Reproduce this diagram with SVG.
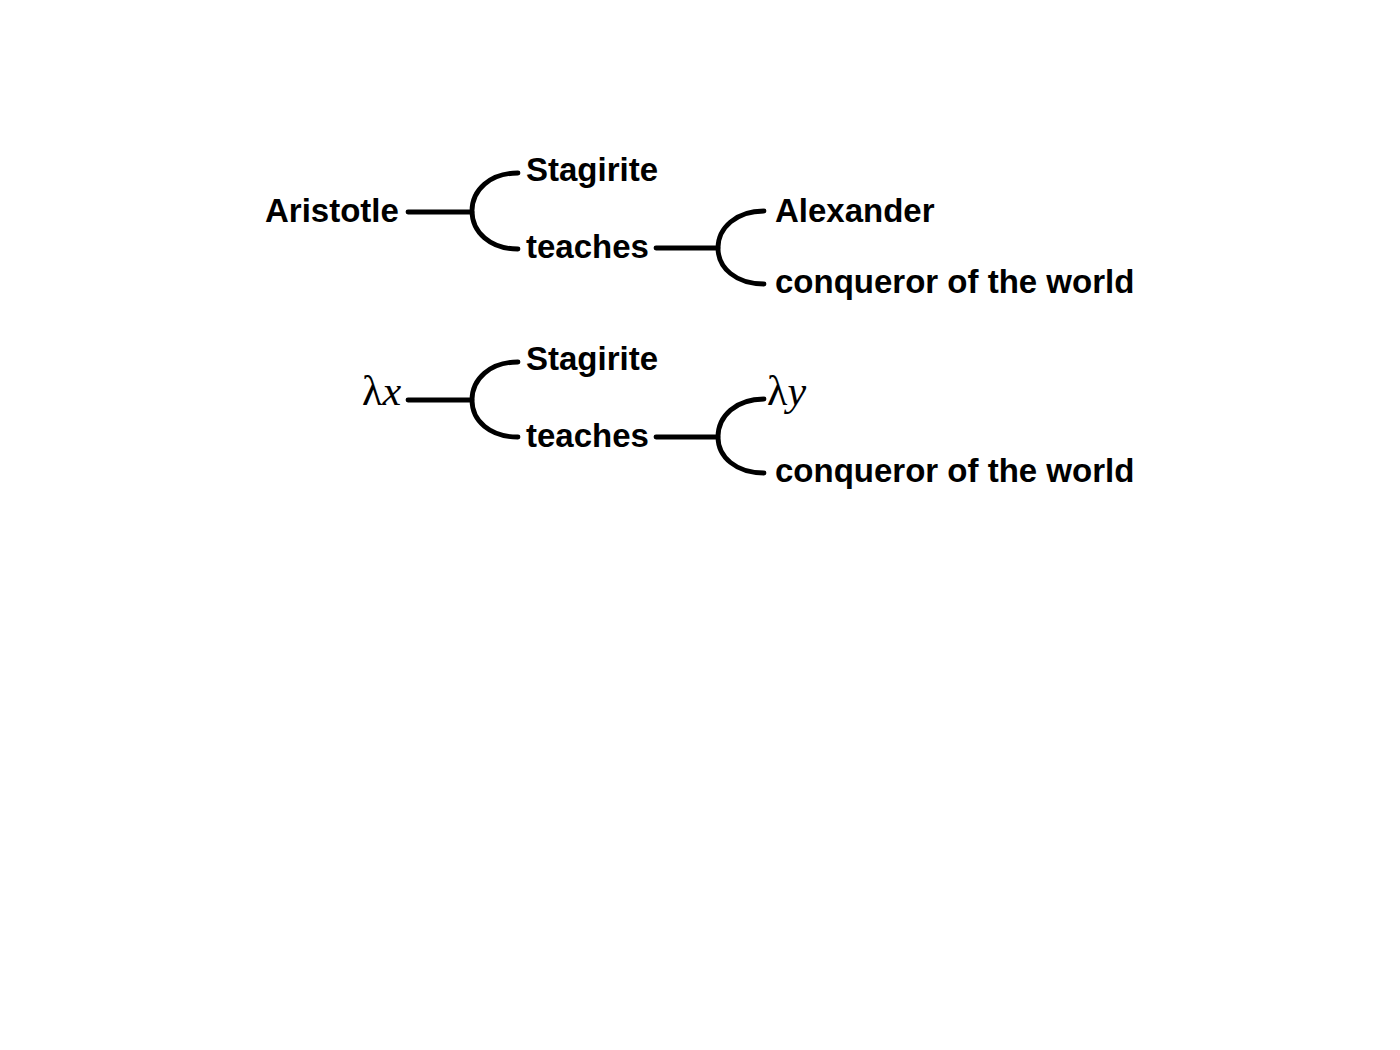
<svg xmlns="http://www.w3.org/2000/svg" width="1400" height="1050" viewBox="0 0 1400 1050">
<style>
.t{font-family:"Liberation Sans",Arial,sans-serif;font-weight:bold;font-size:33px;fill:#000}
.m{font-family:"Liberation Serif","Times New Roman",serif;font-size:42px;fill:#000}
.c{fill:none;stroke:#000;stroke-width:4.8;stroke-linecap:round;stroke-linejoin:round}
</style>
<rect width="1400" height="1050" fill="#fff"/>
<g id="connectors">
<path class="c" d="M408,212 H472"/>
<path class="c" d="M518,173 C490,173 472,190 472,211 C472,232 490,249 518,249"/>
<path class="c" d="M656,248 H718"/>
<path class="c" d="M764,211 C736,211 718,228 718,248 C718,268 736,284 764,284"/>
<path class="c" d="M408,400 H472"/>
<path class="c" d="M518,362 C490,362 472,379 472,400 C472,421 490,437 518,437"/>
<path class="c" d="M656,437 H718"/>
<path class="c" d="M764,399 C736,399 718,416 718,437 C718,457 736,473 764,473"/>
</g>
<g id="n-aristotle"><text class="t" x="265" y="222">Aristotle</text></g>
<g id="n-stagirite1"><text class="t" x="526" y="181">Stagirite</text></g>
<g id="n-teaches1"><text class="t" x="526" y="258">teaches</text></g>
<g id="n-alexander"><text class="t" x="775" y="222">Alexander</text></g>
<g id="n-conqueror1"><text class="t" x="775" y="293">conqueror of the world</text></g>
<g id="n-lx"><text class="m" x="362" y="405">λ<tspan font-style="italic">x</tspan></text></g>
<g id="n-stagirite2"><text class="t" x="526" y="370">Stagirite</text></g>
<g id="n-teaches2"><text class="t" x="526" y="447">teaches</text></g>
<g id="n-ly"><text class="m" x="767" y="405">λ<tspan font-style="italic">y</tspan></text></g>
<g id="n-conqueror2"><text class="t" x="775" y="482">conqueror of the world</text></g>
</svg>
